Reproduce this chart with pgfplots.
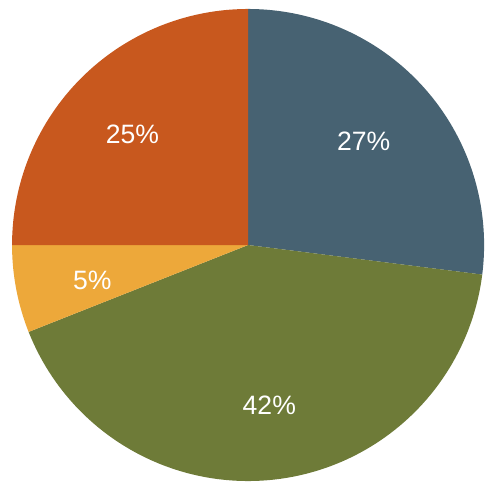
\documentclass[border=0pt]{standalone}
\usepackage{pgfplots}
\pgfplotsset{compat=1.18}
\usepackage{fontspec}
\setmainfont{Liberation Sans}

\definecolor{pieblue}{HTML}{476272}
\definecolor{piegreen}{HTML}{6E7B38}
\definecolor{pieyellow}{HTML}{EDA83A}
\definecolor{pieorange}{HTML}{C8581E}

\begin{document}
\begin{tikzpicture}
	\begin{axis}[
		hide axis,
		scale only axis,
		width=6.75cm,
		height=6.737cm,
		xmin=-1.051, xmax=1.008,
		ymin=-1.017, ymax=1.038,
		clip=false,
		]
		% keep the whole axis area as the picture's extent
		\path (rel axis cs:0,0) rectangle (rel axis cs:1,1);
		% slices clockwise from the top: 27, 42, 5, 25 (percent * 3.6 degrees)
		\addplot[fill=pieblue, draw=none, domain=-7.2:90, samples=80, variable=\t]
			({cos(\t)},{sin(\t)}) -- (0,0) -- cycle;
		\addplot[fill=piegreen, draw=none, domain=-158.4:-7.2, samples=100, variable=\t]
			({cos(\t)},{sin(\t)}) -- (0,0) -- cycle;
		\addplot[fill=pieyellow, draw=none, domain=-180:-158.4, samples=30, variable=\t]
			({cos(\t)},{sin(\t)}) -- (0,0) -- cycle;
		\addplot[fill=pieorange, draw=none, domain=-270:-180, samples=80, variable=\t]
			({cos(\t)},{sin(\t)}) -- (0,0) -- cycle;
		
		% percentage labels
		\addplot[
			only marks, mark=none,
			point meta=explicit symbolic,
			nodes near coords,
			every node near coord/.append style={anchor=center, text=white, font=\fontsize{10.5}{12}\selectfont},
			] coordinates {
			(0.49,0.44) [27\%]
			(0.09,-0.68) [42\%]
			(-0.66,-0.15) [5\%]
			(-0.49,0.47) [25\%]
		};
	\end{axis}
\end{tikzpicture}
\end{document}
